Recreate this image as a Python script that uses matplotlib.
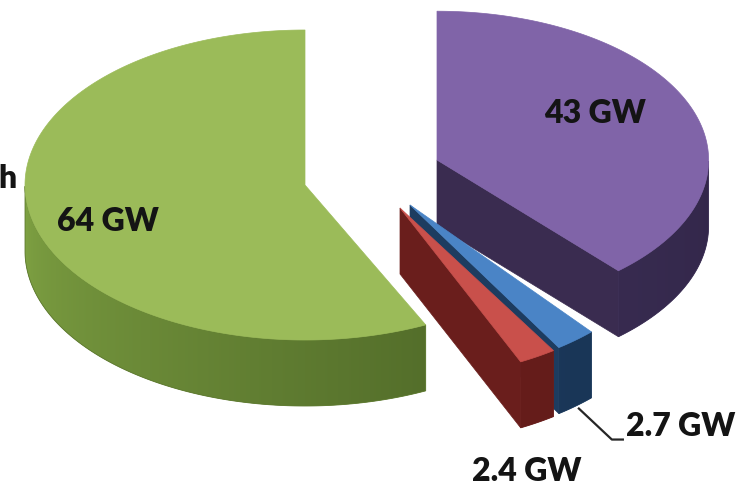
import numpy as np
import matplotlib.pyplot as plt
from matplotlib.patches import Polygon
from matplotlib.colors import to_rgb

# capacity per slice, counter-clockwise from 12 o'clock
capacity_gw = [64, 2.4, 2.7, 43]
top_colors = ["#9bbb59", "#c9504b", "#4a84c6", "#8064a8"]
side_light = ["#7fa243", "#732220", "#21426a", "#443660"]
side_dark = ["#3c521d", "#5e1a18", "#173250", "#33274a"]
radial_colors = ["#4f6a2a", "#6a1e1c", "#1d3c60", "#3a2c50"]
label_pos = [(108, 221), (527, 471), (681, 426), (595, 113)]
cut_label = "h"

W, H = 756, 490
RX, RY, DEPTH = 280, 155, 66
CX, CY = 400, 208
# per-slice explode shift (pixels) and perspective stretch of the radius
explode = [(-95, -23), (0, 0), (10, -3), (37, -48)]
stretch = [(1.0, 1.0), (1.0, 1.1), (0.97, 1.1), (0.97, 0.96)]

plt.rcParams['font.family'] = ['Lato', 'DejaVu Sans']

fig = plt.figure(figsize=(W / 100, H / 100), dpi=100)
ax = fig.add_axes([0, 0, 1, 1])
ax.set_xlim(0, W)
ax.set_ylim(H, 0)
ax.axis('off')


def pt(ox, oy, t, sx=1.0, sy=1.0, z=0):
    r = np.radians(t)
    return ox + sx * RX * np.cos(r), oy - sy * RY * np.sin(r) + z


def draw_wedge(ox, oy, t1, t2, sx, sy, top, light, dark, radial, zorder):
    ts = np.linspace(t1, t2, max(int(abs(t2 - t1)) * 2, 4))
    light, dark = np.array(to_rgb(light)), np.array(to_rgb(dark))

    # flat side faces along the two radii
    for t, normal in ((t1, t1 - 90), (t2, t2 + 90)):
        if np.sin(np.radians(normal)) < -1e-6:
            x, y = pt(ox, oy, t, sx, sy)
            quad = [(ox, oy), (x, y), (x, y + DEPTH), (ox, oy + DEPTH)]
            ax.add_patch(Polygon(quad, closed=True, fc=radial, ec=radial,
                                 lw=0.5, zorder=zorder))

    # curved outer side, shaded left to right with a clipped gradient
    front = [t for t in ts if 180 <= t % 360 <= 360]
    if len(front) > 1:
        upper = [pt(ox, oy, t, sx, sy) for t in front]
        lower = [(x, y + DEPTH) for x, y in upper[::-1]]
        band = Polygon(upper + lower, closed=True,
                       fc=(light + dark) / 2, ec='none', zorder=zorder)
        ax.add_patch(band)
        xs = np.array([p[0] for p in upper])
        ys = np.array([p[1] for p in upper])
        x0, x1 = xs.min(), xs.max()
        cols = np.linspace(x0, x1, 300)
        u = np.clip((cols - ox) / (sx * RX), -1, 1)
        frac = (360 - np.degrees(np.arccos(u)) - 180) / 180
        grad = light[None, :] * (1 - frac[:, None]) + dark[None, :] * frac[:, None]
        im = ax.imshow(grad[None, :, :], extent=(x0, x1, ys.max() + DEPTH, ys.min()),
                       aspect='auto', interpolation='bilinear', zorder=zorder)
        im.set_clip_path(band)
        ax.add_patch(Polygon(upper + lower, closed=True, fc='none',
                             ec=(light + dark) / 2, lw=0.6, zorder=zorder))

    rim = [pt(ox, oy, t, sx, sy) for t in ts]
    ax.add_patch(Polygon([(ox, oy)] + rim, closed=True, fc=top, ec=top,
                         lw=0.5, zorder=zorder + 1))


total = sum(capacity_gw)
spans = [v / total * 360 for v in capacity_gw]
starts = 90 + np.concatenate([[0], np.cumsum(spans)[:-1]])

# back to front: purple, green, blue, red
for z, i in enumerate([3, 0, 2, 1]):
    ox, oy = CX + explode[i][0], CY + explode[i][1]
    draw_wedge(ox, oy, starts[i], starts[i] + spans[i], *stretch[i],
               top_colors[i], side_light[i], side_dark[i], radial_colors[i],
               zorder=2 * z)

ax.set_xlim(0, W)
ax.set_ylim(H, 0)

for v, (x, y) in zip(capacity_gw, label_pos):
    ax.text(x, y, f"{v:g} GW", ha='center', va='center', fontsize=23,
            fontweight='heavy', color='#141414', zorder=20)

# leader line from the blue slice to its label
bi = 2
bx, by = pt(CX + explode[bi][0], CY + explode[bi][1],
            starts[bi] + spans[bi] * 0.6, *stretch[bi], z=DEPTH)
ax.plot([bx, bx + 33, bx + 44], [by + 4, by + 35, by + 35],
        color='#262626', lw=1.6, zorder=19)

ax.text(17, 178, cut_label, ha='right', va='center', fontsize=23,
        fontweight='heavy', color='#141414')

fig.savefig("out.png", dpi=100, facecolor='white')
